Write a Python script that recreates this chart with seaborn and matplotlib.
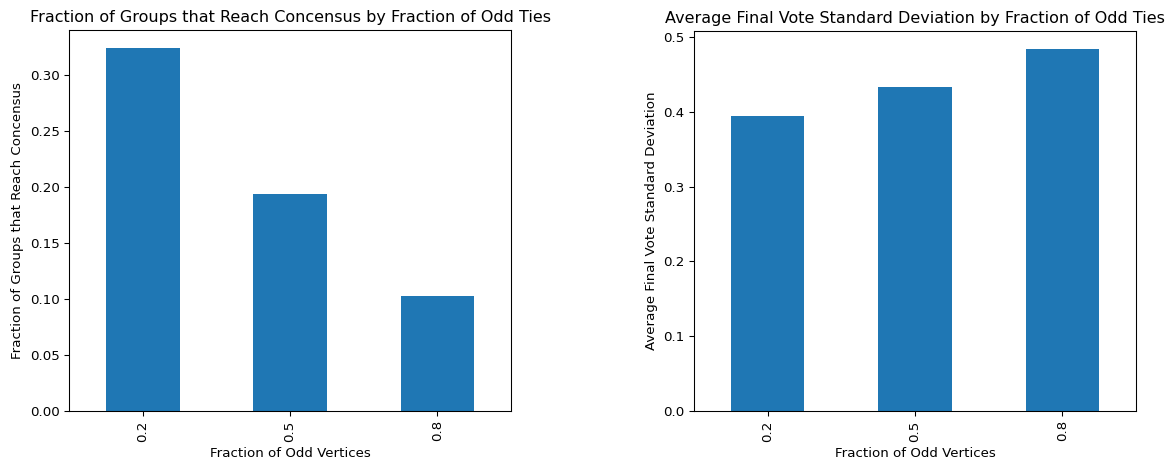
import matplotlib
matplotlib.use("Agg")
import matplotlib.pyplot as plt
import seaborn as sns
import pandas as pd

odd_fractions = ["0.2", "0.5", "0.8"]
consensus_fraction = [0.324, 0.1935, 0.1025]
final_vote_std = [0.3945, 0.4335, 0.4840]

df = pd.DataFrame({
    "odd": odd_fractions,
    "consensus": consensus_fraction,
    "std": final_vote_std,
})

W, H, DPI = 1165, 468, 96
fig = plt.figure(figsize=(W / DPI, H / DPI), dpi=DPI)

def ax_at(x0, y0, x1, y1):
    return fig.add_axes([x0 / W, 1 - y1 / H, (x1 - x0) / W, (y1 - y0) / H])

ax1 = ax_at(69, 30, 511, 411)
ax2 = ax_at(694, 31, 1136, 411)

blue = "#1f77b4"
sns.barplot(data=df, x="odd", y="consensus", ax=ax1, color=blue,
            saturation=1, width=0.5, edgecolor="none")
sns.barplot(data=df, x="odd", y="std", ax=ax2, color=blue,
            saturation=1, width=0.5, edgecolor="none")

ax1.set_title("Fraction of Groups that Reach Concensus by Fraction of Odd Ties", fontsize=12)
ax1.set_ylabel("Fraction of Groups that Reach Concensus")
ax2.set_title("Average Final Vote Standard Deviation by Fraction of Odd Ties", fontsize=12)
ax2.set_ylabel("Average Final Vote Standard Deviation")

for ax, vals in ((ax1, consensus_fraction), (ax2, final_vote_std)):
    ax.set_xlabel("Fraction of Odd Vertices")
    ax.set_xlim(-0.5, 2.5)
    ax.set_ylim(0, max(vals) * 1.05)
    ax.tick_params(axis="x", labelrotation=90)

ax1.set_yticks([0, 0.05, 0.10, 0.15, 0.20, 0.25, 0.30])
ax1.set_yticklabels(["0.00", "0.05", "0.10", "0.15", "0.20", "0.25", "0.30"])
ax2.set_yticks([0, 0.1, 0.2, 0.3, 0.4, 0.5])
ax2.set_yticklabels(["0.0", "0.1", "0.2", "0.3", "0.4", "0.5"])

fig.savefig("out.png", dpi=DPI)
